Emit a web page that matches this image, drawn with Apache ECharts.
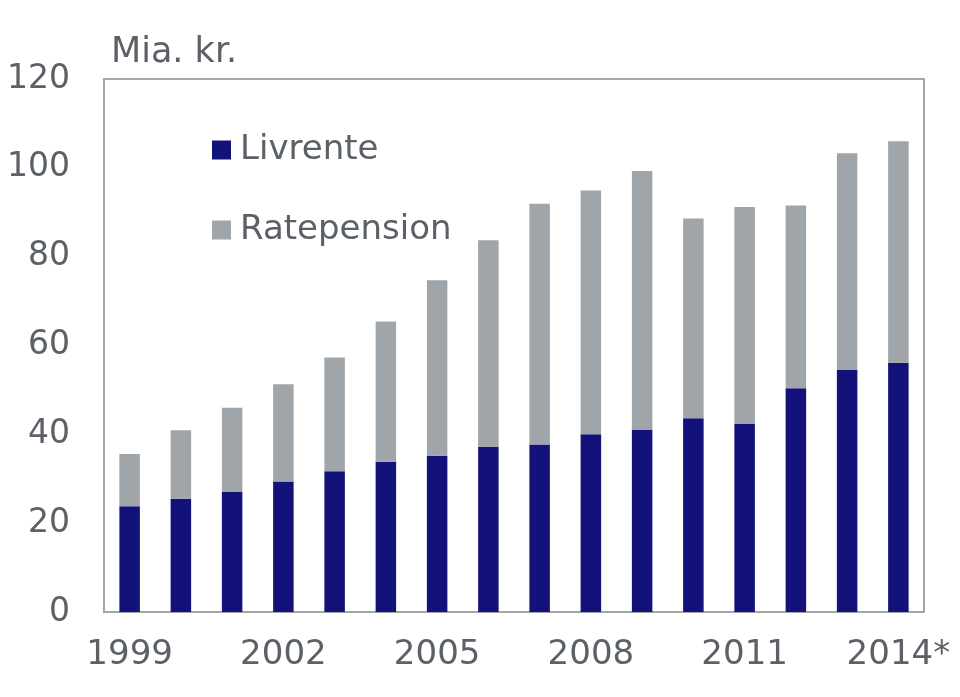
<!DOCTYPE html>
<html>
<head>
<meta charset="utf-8">
<script src="https://cdn.jsdelivr.net/npm/echarts@6/dist/echarts.min.js"></script>
<style>html,body{margin:0;padding:0;background:#fff}#c{width:960px;height:697px}</style>
</head>
<body>
<div id="c"></div>
<script>
var years = ['1999','2000','2001','2002','2003','2004','2005','2006','2007','2008','2009','2010','2011','2012','2013','2014*'];
var livrente = [23.8,25.5,27.0,29.4,31.7,33.8,35.2,37.2,37.7,40.0,41.0,43.6,42.3,50.4,54.5,56.1];
var ratepension = [11.8,15.4,19.0,21.9,25.6,31.6,39.5,46.5,54.2,54.9,58.3,45.0,48.9,41.1,48.8,49.9];
var yTicks = [0,20,40,60,80,100,120];

var font = 'DejaVu Sans';
var txt = '#5b6167';
var chart = echarts.init(document.getElementById('c'), null, {renderer:'canvas'});
chart.setOption({
  animation:false,
  title:{text:'Mia. kr.', left:106, top:30, textStyle:{fontFamily:font, fontSize:35, fontWeight:'normal', color:txt}},
  legend:{
    orient:'vertical', left:212, top:130, padding:0, itemWidth:19, itemHeight:19, itemGap:40,
    icon:'rect',
    textStyle:{fontFamily:font, fontSize:34, color:txt, lineHeight:40, padding:[0,0,0,4]},
    data:['Livrente','Ratepension']
  },
  grid:{left:104, right:36, top:79, bottom:85, show:true, borderColor:'#a3a6a9', borderWidth:2, backgroundColor:'transparent'},
  xAxis:{
    type:'category', data:years,
    axisLine:{show:true, lineStyle:{color:'#a3a6a9', width:2}},
    axisTick:{show:false},
    axisLabel:{interval:2, fontFamily:font, fontSize:34, color:txt, margin:26}
  },
  yAxis:{
    type:'value', min:yTicks[0], max:yTicks[yTicks.length-1], interval:20,
    splitLine:{show:false},
    axisLine:{show:true, lineStyle:{color:'#a3a6a9', width:2}},
    axisTick:{show:false},
    axisLabel:{fontFamily:font, fontSize:33, color:txt, margin:34}
  },
  series:[
    {name:'Livrente', type:'bar', stack:'t', data:livrente, barWidth:'40%', itemStyle:{color:'#12127a'}},
    {name:'Ratepension', type:'bar', stack:'t', data:ratepension, barWidth:'40%', itemStyle:{color:'#a0a5a9'}}
  ]
});
</script>
</body>
</html>
